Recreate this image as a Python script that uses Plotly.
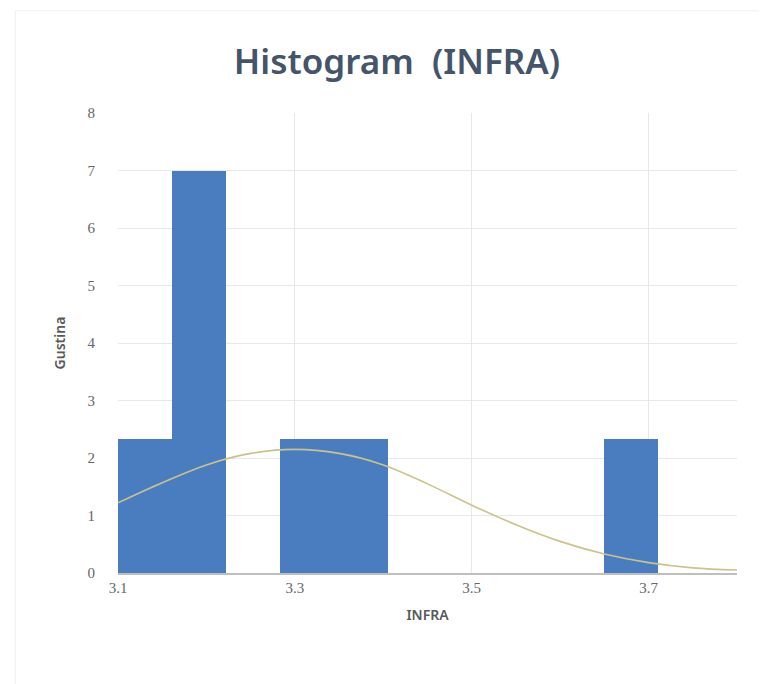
import plotly.graph_objects as go

# Histogram bins (density)
bin_left = [3.1000, 3.1611, 3.2222, 3.2833, 3.3444, 3.4055, 3.4666, 3.5277, 3.5888, 3.6499]
bin_width = 0.0611
density = [2.33, 7.0, 0.0, 2.33, 2.33, 0.0, 0.0, 0.0, 0.0, 2.33]

# Fitted curve points
curve_x = [3.10, 3.15, 3.20, 3.25, 3.30, 3.35, 3.40, 3.45, 3.50, 3.55, 3.60, 3.65, 3.70, 3.75, 3.805]
curve_y = [1.22, 1.57, 1.88, 2.08, 2.15, 2.08, 1.88, 1.55, 1.18, 0.84, 0.55, 0.33, 0.18, 0.09, 0.05]

x_ticks = [3.1, 3.3, 3.5, 3.7]
x_tick_labels = ["3.1", "3.3", "3.5", "3.7"]
y_ticks = [0, 1, 2, 3, 4, 5, 6, 7, 8]

centers = [b + bin_width / 2 for b in bin_left]

W, H = 759, 676  # page body has an 8px margin

fig = go.Figure()
fig.add_trace(go.Bar(
    x=centers, y=density, width=[bin_width] * len(centers),
    marker=dict(color="#4A7DBF", line=dict(width=0)),
    hoverinfo="skip", showlegend=False,
))
fig.add_trace(go.Scatter(
    x=curve_x, y=curve_y, mode="lines",
    line=dict(color="#CBC28C", width=1.6, shape="spline"),
    hoverinfo="skip", showlegend=False, cliponaxis=False,
))

tick_font = dict(family="Liberation Serif, serif", size=15, color="#666666")
title_font = dict(family="Noto Sans, sans-serif", size=14, color="#595959", weight=600)
fig.update_layout(
    width=W, height=H,
    margin=dict(l=110, r=30, t=105, b=111),
    paper_bgcolor="white", plot_bgcolor="white",
    bargap=0,
    title=dict(
        text="Histogram  (INFRA)", x=(397 - 8) / W, xanchor="center", xref="container",
        y=1 - (62 - 8) / H, yanchor="middle", yref="container",
        font=dict(family="Noto Sans, sans-serif", size=35, color="#44546A", weight=600),
    ),
    xaxis=dict(
        range=[3.1, 3.80], tickvals=x_ticks, ticktext=x_tick_labels,
        showgrid=True, gridcolor="#E8E8E8", gridwidth=1,
        zeroline=False, showline=True, linecolor="#BFBFBF", linewidth=1.5,
        ticks="", tickfont=tick_font,
        title=dict(text="INFRA", font=title_font, standoff=15),
    ),
    yaxis=dict(
        range=[0, 8], tickvals=y_ticks,
        showgrid=True, gridcolor="#E8E8E8", gridwidth=1,
        zeroline=False, showline=False,
        ticks="", tickfont=tick_font, ticklabelstandoff=22,
        title=dict(text="Gustina", font=title_font, standoff=18),
    ),
    shapes=[dict(type="rect", xref="paper", yref="paper", x0=-0.166, x1=1.1, y0=-0.3, y1=1.222,
                 line=dict(color="#EEEEEE", width=1), layer="below")],
)

fig.write_html("out.html")
